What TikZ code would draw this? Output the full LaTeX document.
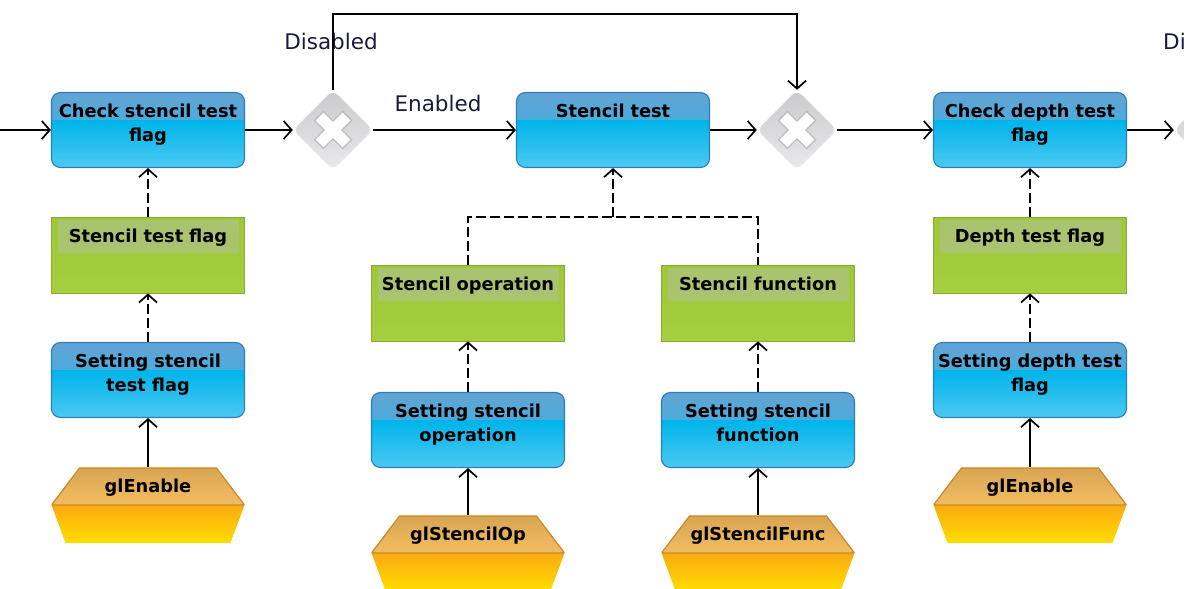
\documentclass[tikz,border=0pt]{standalone}
\usepackage{fontspec}
\usetikzlibrary{shapes.geometric,arrows.meta}
\newfontfamily\dejavu{DejaVu Sans}
\definecolor{blueA}{HTML}{62A4D4}
\definecolor{blueB}{HTML}{26B7EA}
\definecolor{blueC}{HTML}{00B4EA}
\definecolor{blueD}{HTML}{4CC9F2}
\definecolor{blueline}{HTML}{2A7DB6}
\definecolor{greenA}{HTML}{9CC83A}
\definecolor{greenB}{HTML}{A6CE3E}
\definecolor{greenband}{HTML}{A9C36E}
\definecolor{greenline}{HTML}{86AC36}
\definecolor{hexA}{HTML}{D9A552}
\definecolor{hexB}{HTML}{F2BD62}
\definecolor{hexC}{HTML}{FBAA10}
\definecolor{hexD}{HTML}{FFDE00}
\definecolor{hexline}{HTML}{C48A2A}
\definecolor{gateA}{HTML}{CACACC}
\definecolor{gateB}{HTML}{EAE8EC}
\definecolor{labeltext}{HTML}{1A1A3A}
\begin{document}
\begin{tikzpicture}[x=1pt,y=-1pt,
  boxtext/.style={font=\dejavu\bfseries\fontsize{17.8}{24}\selectfont, text width=185pt, align=center, inner sep=4pt, minimum width=193pt},
  bluebox/.style={boxtext, rounded corners=9pt, draw=blueline, line width=1.1pt, minimum height=75pt, text height=21pt, text depth=46pt,
    path picture={
      \shade[sharp corners, top color=blueA, bottom color=blueB] (path picture bounding box.north west) rectangle ([yshift=-28pt]path picture bounding box.north east);
      \shade[sharp corners, top color=blueC, bottom color=blueD] ([yshift=-28pt]path picture bounding box.north west) rectangle (path picture bounding box.south east);
    }},
  greenbox/.style={boxtext, draw=greenline, line width=0.8pt, minimum height=76pt, text height=21pt, text depth=47pt,
    top color=greenA, bottom color=greenB,
    path picture={
      \fill[greenband] ([xshift=6pt,yshift=-3pt]path picture bounding box.north west) rectangle ([xshift=-6pt,yshift=-36pt]path picture bounding box.north east);
    }},
  hexbox/.style={boxtext, fill=white, minimum height=76pt, text height=21pt, text depth=47pt,
    path picture={
      \coordinate (p) at (path picture bounding box.north west);
      \shade[top color=hexC, bottom color=hexD] ([shift={(0,38)}]p) -- ([shift={(193,38)}]p) -- ([shift={(179,76)}]p) -- ([shift={(14,76)}]p) -- cycle;
      \shadedraw[top color=hexA, bottom color=hexB, draw=hexline, line width=1.2pt] ([shift={(28,1)}]p) -- ([shift={(165,1)}]p) -- ([shift={(193,38)}]p) -- ([shift={(0,38)}]p) -- cycle;
    }},
  gate/.style={diamond, minimum width=80pt, minimum height=80pt, inner sep=0pt, rounded corners=7pt, top color=gateA, bottom color=gateB,
    path picture={
      \coordinate (q) at (path picture bounding box.center);
      \draw[gray!55, line width=13.5pt] ([shift={(-14.5,-14.5)}]q) -- ([shift={(14.5,14.5)}]q) ([shift={(-14.5,14.5)}]q) -- ([shift={(14.5,-14.5)}]q);
      \draw[white, line width=11pt] ([shift={(-13.5,-13.5)}]q) -- ([shift={(13.5,13.5)}]q) ([shift={(-13.5,13.5)}]q) -- ([shift={(13.5,-13.5)}]q);
    }},
  flow/.style={line width=1.5pt, -{Straight Barb[length=8pt,width=18pt,line width=1.7pt]}},
  push/.style={line width=2.6pt, -{Straight Barb[length=8pt,width=18pt,line width=1.7pt]}},
  dep/.style={line width=2.8pt, dash pattern=on 10pt off 4pt, -{Straight Barb[length=8pt,width=18pt,line width=1.7pt]}},
  lbl/.style={font=\dejavu\fontsize{21.5}{24}\selectfont, text=labeltext, inner sep=0pt}]

\useasboundingbox (0,0) rectangle (1184,589);

\node[bluebox] (chk1) at (148,130) {Check stencil test\\flag};
\node[greenbox] (flag1) at (148,255) {Stencil test flag};
\node[bluebox] (set1) at (148,380) {Setting stencil\\test flag};
\node[hexbox] (en1) at (148,505) {glEnable};
\node[gate] (gw1) at (333,130) {};
\node[bluebox] (stest) at (613,130) {Stencil test};
\node[gate] (gw2) at (797,130) {};
\node[bluebox] (chk2) at (1030,130) {Check depth test\\flag};
\node[greenbox] (flag2) at (1030,255) {Depth test flag};
\node[bluebox] (set2) at (1030,380) {Setting depth test\\flag};
\node[hexbox] (en2) at (1030,505) {glEnable};
\node[gate] (gw3) at (1214,130) {};
\node[greenbox] (sop) at (468,303) {Stencil operation};
\node[greenbox] (sfn) at (758,303) {Stencil function};
\node[bluebox] (setop) at (468,430) {Setting stencil\\operation};
\node[bluebox] (setfn) at (758,430) {Setting stencil\\function};
\node[hexbox] (glop) at (468,553) {glStencilOp};
\node[hexbox] (glfn) at (758,553) {glStencilFunc};

\coordinate (in1) at (0,130);
\coordinate (top) at (0,14);
\coordinate (jn) at (613,217);

\node[lbl] (dis1) at (331,41) {Disabled};
\node[lbl] (ena1) at (438,103) {Enabled};
\node[lbl, anchor=west] (dis2) at (1163,41) {Disabled};

\draw[flow] (in1) -- (chk1);
\draw[flow] (chk1) -- (gw1);
\draw[flow] (gw1) -- (stest);
\draw[flow] (stest) -- (gw2);
\draw[flow] (gw2) -- (chk2);
\draw[flow] (chk2) -- (gw3);
\draw[push] (gw1.north) -- (gw1.north |- top) -| (gw2.north);

\draw[dep] (flag1) -- (chk1);
\draw[dep] (set1) -- (flag1);
\draw[push] (en1) -- (set1);
\draw[dep] (flag2) -- (chk2);
\draw[dep] (set2) -- (flag2);
\draw[push] (en2) -- (set2);

\draw[dep, -] (sop.north) |- (jn) -| (sfn.north);
\draw[dep] (jn) -- (stest);
\draw[dep] (setop) -- (sop);
\draw[dep] (setfn) -- (sfn);
\draw[flow] (glop) -- (setop);
\draw[push] (glfn) -- (setfn);
\end{tikzpicture}
\end{document}
